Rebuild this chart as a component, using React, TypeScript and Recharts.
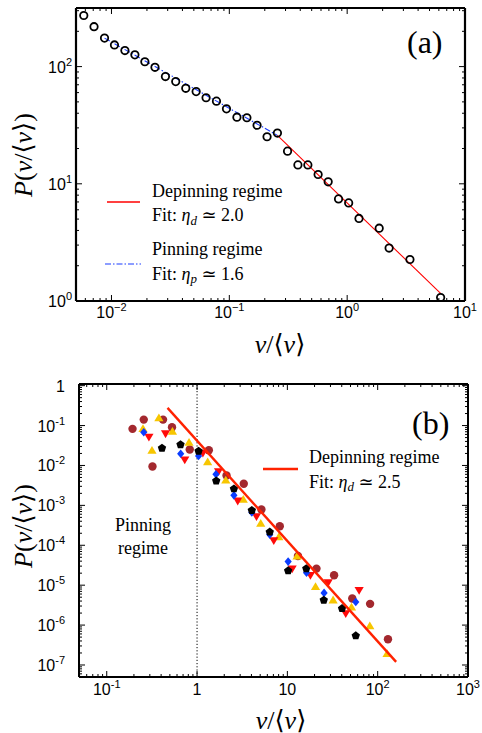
import React from "react";
import { ScatterChart, Scatter, XAxis, YAxis, ReferenceLine } from "recharts";

const SERIF = '"Liberation Serif", "DejaVu Serif", serif';
const SANS = '"Liberation Sans", Arial, sans-serif';

// ---- panel (a) ----
const distA = [
  { x: 0.00582, y: 273 }, { x: 0.00711, y: 219 }, { x: 0.00873, y: 175 },
  { x: 0.0106, y: 153 }, { x: 0.013, y: 137 }, { x: 0.0158, y: 126 },
  { x: 0.0192, y: 110 }, { x: 0.0234, y: 98.6 }, { x: 0.0287, y: 82.2 },
  { x: 0.0351, y: 74.5 }, { x: 0.0427, y: 65.3 }, { x: 0.0523, y: 61.2 },
  { x: 0.0635, y: 54.2 }, { x: 0.0778, y: 50.7 }, { x: 0.0946, y: 43.6 },
  { x: 0.116, y: 37.0 }, { x: 0.141, y: 36.6 }, { x: 0.172, y: 31.6 },
  { x: 0.209, y: 25.2 }, { x: 0.256, y: 27.1 }, { x: 0.312, y: 19.0 },
  { x: 0.382, y: 14.5 }, { x: 0.464, y: 14.5 }, { x: 0.567, y: 12.0 },
  { x: 0.69, y: 10.4 }, { x: 0.845, y: 7.43 }, { x: 1.03, y: 6.87 },
  { x: 1.26, y: 5.06 }, { x: 1.87, y: 4.18 }, { x: 2.27, y: 2.83 },
  { x: 3.41, y: 2.26 }, { x: 6.21, y: 1.07 },
];
const pinFitA = [{ x: 0.00873, y: 175 }, { x: 0.256, y: 25.9 }];
const depFitA = [{ x: 0.256, y: 25.9 }, { x: 6.21, y: 1.16 }];

const xDomA = [0.005, 10];
const yDomA = [1, 316.2];
const xMajorA = [0.01, 0.1, 1, 10];
const xLabelA = ["10^−2", "10^−1", "10^0", "10^1"];
const yMajorA = [1, 10, 100];
const yLabelA = ["10^0", "10^1", "10^2"];

// ---- panel (b) ----
const brownB = [
  { x: 0.193, y: 0.0827 }, { x: 0.257, y: 0.141 }, { x: 0.321, y: 0.0094 },
  { x: 0.42, y: 0.141 }, { x: 0.528, y: 0.0906 }, { x: 0.83, y: 0.0251 },
  { x: 1.35, y: 0.0241 }, { x: 2.12, y: 0.0056 }, { x: 3.29, y: 0.00349 },
  { x: 5.16, y: 7.9e-4 }, { x: 8.24, y: 3.0e-4 }, { x: 13.1, y: 5.4e-5 },
  { x: 21.0, y: 2.6e-5 }, { x: 32.9, y: 1.78e-5 }, { x: 52.3, y: 4.65e-6 },
  { x: 82.4, y: 3.4e-6 }, { x: 130, y: 4.4e-7 },
];
const goldB = [
  { x: 0.252, y: 0.0827 }, { x: 0.317, y: 0.0237 }, { x: 0.378, y: 0.154 },
  { x: 0.534, y: 0.0708 }, { x: 0.815, y: 0.0376 }, { x: 1.31, y: 0.0121 },
  { x: 2.08, y: 0.00422 }, { x: 3.25, y: 0.0014 }, { x: 5.07, y: 3.49e-4 },
  { x: 8.04, y: 1.61e-4 }, { x: 12.8, y: 5.3e-5 }, { x: 20.5, y: 9.1e-6 },
  { x: 32.1, y: 4.2e-6 }, { x: 51.3, y: 2.8e-6 }, { x: 81.8, y: 9.4e-7 },
  { x: 127, y: 1.9e-7 },
];
const redB = [
  { x: 0.293, y: 0.0516 }, { x: 0.448, y: 0.0631 }, { x: 0.731, y: 0.0139 },
  { x: 1.16, y: 0.0205 }, { x: 1.73, y: 0.00708 }, { x: 2.82, y: 0.0013 },
  { x: 4.55, y: 5.3e-4 }, { x: 7.07, y: 1.33e-4 }, { x: 11.3, y: 2.6e-5 },
  { x: 18.0, y: 1.78e-5 }, { x: 28.3, y: 1.17e-5 }, { x: 44.3, y: 1.96e-6 },
  { x: 62.3, y: 7.5e-6 },
];
const blueB = [
  { x: 0.257, y: 0.068 }, { x: 0.659, y: 0.0196 }, { x: 1.04, y: 0.0173 },
  { x: 1.62, y: 0.006 }, { x: 2.56, y: 0.00178 }, { x: 4.04, y: 6.6e-4 },
  { x: 6.38, y: 1.85e-4 }, { x: 10.2, y: 3.9e-5 }, { x: 16.3, y: 2.05e-5 },
  { x: 25.5, y: 6.4e-6 }, { x: 57.2, y: 3.8e-6 },
];
const blackB = [
  { x: 0.409, y: 0.0271 }, { x: 0.656, y: 0.0331 }, { x: 1.04, y: 0.0228 },
  { x: 1.63, y: 0.0041 }, { x: 2.56, y: 0.0026 }, { x: 4.04, y: 7.5e-4 },
  { x: 6.38, y: 2.15e-4 }, { x: 10.2, y: 2.3e-5 }, { x: 16.2, y: 2.6e-5 },
  { x: 25.3, y: 4.2e-6 }, { x: 40.3, y: 2.6e-6 }, { x: 57.2, y: 5.4e-7 },
];
const depFitB = [{ x: 0.471, y: 0.277 }, { x: 160, y: 1.2e-7 }];

const xDomB = [0.0493, 1000];
const yDomB = [5.0e-8, 1.1];
const xMajorB = [0.1, 1, 10, 100, 1000];
const xLabelB = ["10^-1", "1", "10", "10^2", "10^3"];
const yMajorB = [1e-7, 1e-6, 1e-5, 1e-4, 1e-3, 1e-2, 1e-1, 1];
const yLabelB = ["10^-7", "10^-6", "10^-5", "10^-4", "10^-3", "10^-2", "10^-1", "1"];

const PW = 389;
const PH = 293;

// minor ticks between decades
const withMinors = (majors: number[], lo: number, hi: number) => {
  const out: number[] = [];
  const first = majors[0] / 10;
  for (let d = first; d <= majors[majors.length - 1]; d *= 10) {
    for (let k = 1; k < 10; k++) {
      const v = +(d * k).toPrecision(3);
      if (v >= lo && v <= hi) out.push(v);
    }
  }
  return out;
};

const TickText = ({ x, y, label, anchor, size, sup }: any) => {
  const [base, exp] = label.split("^");
  return (
    <text x={x} y={y} textAnchor={anchor} fontFamily={SANS} fontSize={size} fill="#000">
      <tspan>{base}</tspan>
      {exp !== undefined && (
        <tspan dy={-7} fontSize={sup}>
          {exp}
        </tspan>
      )}
    </text>
  );
};

const makeXTick = (majors: number[], labels: string[], dy: number) => (p: any) => {
  const { x, y, payload } = p;
  const i = majors.findIndex((m) => Math.abs(m - payload.value) / m < 1e-6);
  const len = i >= 0 ? 6 : 3;
  return (
    <g>
      <line x1={x} y1={y} x2={x} y2={y - len} stroke="#000" strokeWidth={1} />
      <line x1={x} y1={y - PH} x2={x} y2={y - PH + len} stroke="#000" strokeWidth={1} />
      {i >= 0 && <TickText x={x} y={y + dy} label={labels[i]} anchor="middle" size={16} sup={11} />}
    </g>
  );
};

const makeYTick = (majors: number[], labels: string[], gap: number) => (p: any) => {
  const { x, y, payload } = p;
  const i = majors.findIndex((m) => Math.abs(m - payload.value) / m < 1e-6);
  const len = i >= 0 ? 6 : 3;
  return (
    <g>
      <line x1={x} y1={y} x2={x + len} y2={y} stroke="#000" strokeWidth={1} />
      <line x1={x + PW} y1={y} x2={x + PW - len} y2={y} stroke="#000" strokeWidth={1} />
      {i >= 0 && <TickText x={x - gap} y={y + 6} label={labels[i]} anchor="end" size={16} sup={11} />}
    </g>
  );
};

const Ring = (p: any) => (
  <circle cx={p.cx} cy={p.cy} r={3.7} fill="none" stroke="#000" strokeWidth={1.8} />
);
const Dot = (p: any) => <circle cx={p.cx} cy={p.cy} r={4.2} fill="#a3282e" />;
const TriUp = (p: any) => {
  const { cx, cy } = p;
  return <polygon points={`${cx},${cy - 4.6} ${cx + 4.6},${cy + 3.2} ${cx - 4.6},${cy + 3.2}`} fill="#f7c600" />;
};
const TriDown = (p: any) => {
  const { cx, cy } = p;
  return <polygon points={`${cx - 4.6},${cy - 3.2} ${cx + 4.6},${cy - 3.2} ${cx},${cy + 4.6}`} fill="#ff0a0a" />;
};
const Diamond = (p: any) => {
  const { cx, cy } = p;
  return <polygon points={`${cx},${cy - 4.3} ${cx + 3.6},${cy} ${cx},${cy + 4.3} ${cx - 3.6},${cy}`} fill="#0a3cff" />;
};
const Penta = (p: any) => {
  const { cx, cy } = p;
  const pts = [0, 1, 2, 3, 4]
    .map((k) => {
      const a = ((-90 + 72 * k) * Math.PI) / 180;
      return `${cx + 4.4 * Math.cos(a)},${cy + 4.4 * Math.sin(a)}`;
    })
    .join(" ");
  return <polygon points={pts} fill="#000" />;
};
const NoShape = () => <g />;

const abs = (left: number, top: number, extra: any = {}) => ({
  position: "absolute" as const,
  left,
  top,
  whiteSpace: "nowrap" as const,
  ...extra,
});

const Sample = ({ left, top, w, color, sw, dash }: any) => (
  <svg style={abs(left, top - 4, { overflow: "visible" })} width={w} height={8}>
    <line x1={0} y1={4} x2={w} y2={4} stroke={color} strokeWidth={sw} strokeDasharray={dash} />
  </svg>
);

const Sub = ({ c }: { c: string }) => (
  <span style={{ fontSize: "0.72em", position: "relative", top: "0.3em", fontStyle: "italic" }}>{c}</span>
);

const YTitle = ({ cx, cy }: any) => (
  <div
    style={abs(cx, cy, {
      transform: "translate(-50%, -50%) rotate(-90deg)",
      font: `26px ${SERIF}`,
    })}
  >
    <i>P</i>(<i>v</i>/⟨<i>v</i>⟩)
  </div>
);
const XTitle = ({ cx, cy }: any) => (
  <div style={abs(cx, cy, { transform: "translate(-50%, -50%)", font: `26px ${SERIF}` })}>
    <i>v</i>/⟨<i>v</i>⟩
  </div>
);

export default function App() {
  const txtStyle = { font: `18px ${SERIF}`, lineHeight: "24.5px" };
  return (
    <div style={{ position: "absolute", left: 0, top: 0, width: 482, height: 733, background: "#fff" }}>
      {/* panel (a) */}
      <div style={abs(0, 0)}>
        <ScatterChart width={482} height={365} margin={{ top: 8, right: 17, left: 0, bottom: 0 }}>
          <XAxis
            dataKey="x"
            type="number"
            scale="log"
            domain={xDomA}
            allowDataOverflow
            ticks={withMinors(xMajorA, xDomA[0], xDomA[1])}
            interval={0}
            tickSize={0}
            tickMargin={0}
            tickLine={false}
            height={64}
            axisLine={{ stroke: "#000", strokeWidth: 2.2 }}
            tick={makeXTick(xMajorA, xLabelA, 17)}
          />
          <YAxis
            dataKey="y"
            type="number"
            scale="log"
            domain={yDomA}
            allowDataOverflow
            ticks={withMinors(yMajorA, yDomA[0], yDomA[1])}
            interval={0}
            tickSize={0}
            tickMargin={0}
            tickLine={false}
            width={76}
            axisLine={{ stroke: "#000", strokeWidth: 2.2 }}
            tick={makeYTick(yMajorA, yLabelA, 4)}
          />
          <ReferenceLine y={yDomA[1]} stroke="#000" strokeWidth={2.2} ifOverflow="visible" />
          <ReferenceLine x={xDomA[1]} stroke="#000" strokeWidth={2.2} ifOverflow="visible" />
          <Scatter data={pinFitA} line={{ stroke: "#1a3cff", strokeWidth: 1.1, strokeDasharray: "6 2 1.5 2" }} shape={NoShape} isAnimationActive={false} />
          <Scatter data={depFitA} line={{ stroke: "#ff0000", strokeWidth: 1.1 }} shape={NoShape} isAnimationActive={false} />
          <Scatter data={distA} shape={Ring} isAnimationActive={false} />
        </ScatterChart>
      </div>
      <YTitle cx={23} cy={155} />
      <XTitle cx={280} cy={344} />
      <div style={abs(407, 23, { font: `32px ${SERIF}`, lineHeight: "38px" })}>(a)</div>
      <Sample left={107} top={201.7} w={33} color="#ff0000" sw={1.3} />
      <div style={abs(152, 178.5, txtStyle)}>
        Depinning regime
        <br />
        Fit: <i>η</i>
        <Sub c="d" /> ≃ 2.0
      </div>
      <Sample left={105} top={264} w={36} color="#1a3cff" sw={1.2} dash="6 2 1.5 2" />
      <div style={abs(152, 237, txtStyle)}>
        Pinning regime
        <br />
        Fit: <i>η</i>
        <Sub c="p" /> ≃ 1.6
      </div>

      {/* panel (b) */}
      <div style={abs(0, 365)}>
        <ScatterChart width={482} height={368} margin={{ top: 19, right: 14, left: 0, bottom: 0 }}>
          <XAxis
            dataKey="x"
            type="number"
            scale="log"
            domain={xDomB}
            allowDataOverflow
            ticks={withMinors(xMajorB, xDomB[0], xDomB[1])}
            interval={0}
            tickSize={0}
            tickMargin={0}
            tickLine={false}
            height={56}
            axisLine={{ stroke: "#000", strokeWidth: 2 }}
            tick={makeXTick(xMajorB, xLabelB, 18)}
          />
          <YAxis
            dataKey="y"
            type="number"
            scale="log"
            domain={yDomB}
            allowDataOverflow
            ticks={withMinors(yMajorB, yDomB[0], yDomB[1])}
            interval={0}
            tickSize={0}
            tickMargin={0}
            tickLine={false}
            width={79}
            axisLine={{ stroke: "#000", strokeWidth: 2 }}
            tick={makeYTick(yMajorB, yLabelB, 14)}
          />
          <ReferenceLine y={yDomB[1]} stroke="#000" strokeWidth={2} ifOverflow="visible" />
          <ReferenceLine x={xDomB[1]} stroke="#000" strokeWidth={2} ifOverflow="visible" />
          <ReferenceLine x={1} stroke="#000" strokeWidth={1} strokeDasharray="1.2 2" />
          <Scatter data={brownB} shape={Dot} isAnimationActive={false} />
          <Scatter data={goldB} shape={TriUp} isAnimationActive={false} />
          <Scatter data={redB} shape={TriDown} isAnimationActive={false} />
          <Scatter data={blueB} shape={Diamond} isAnimationActive={false} />
          <Scatter data={blackB} shape={Penta} isAnimationActive={false} />
          <Scatter data={depFitB} line={{ stroke: "#ff2200", strokeWidth: 2.4 }} shape={NoShape} isAnimationActive={false} />
        </ScatterChart>
      </div>
      <YTitle cx={23} cy={526} />
      <XTitle cx={281} cy={720} />
      <div style={abs(412, 404, { font: `32px ${SERIF}`, lineHeight: "38px" })}>(b)</div>
      <Sample left={263} top={469.3} w={35} color="#ff2200" sw={2.6} />
      <div style={abs(309, 445, txtStyle)}>
        Depinning regime
        <br />
        Fit: <i>η</i>
        <Sub c="d" /> ≃ 2.5
      </div>
      <div style={abs(143, 513.5, { ...txtStyle, lineHeight: "23px", transform: "translateX(-50%)", textAlign: "center" })}>
        Pinning
        <br />
        regime
      </div>
    </div>
  );
}
